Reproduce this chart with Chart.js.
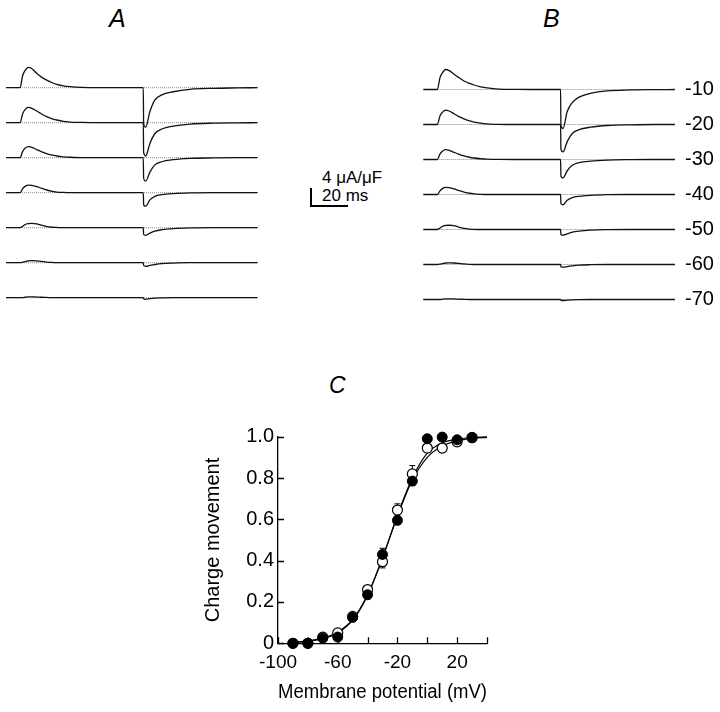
<!DOCTYPE html>
<html>
<head>
<meta charset="utf-8">
<script src="https://cdn.jsdelivr.net/npm/chart.js@4.4.1/dist/chart.umd.min.js"></script>
<style>
  body { margin: 0; background: #fff; }
  #page { position: relative; width: 720px; height: 712px; overflow: hidden;
          font-family: "Liberation Sans", Arial, sans-serif; color: #000; }
  canvas, .lbl { position: absolute; }
  .lbl { line-height: 1; white-space: nowrap; }
  .panel { font-style: italic; font-size: 25px; }
  .bar { font-size: 17px; }
</style>
</head>
<body>
<div id="page">
  <div class="lbl panel" style="left:109px; top:6px">A</div>
  <div class="lbl panel" style="left:543px; top:6px">B</div>
  <div class="lbl panel" style="left:329px; top:374px; font-size:23px">C</div>
  <div class="lbl bar" style="left:322px; top:169px">4 μA/μF</div>
  <div class="lbl bar" style="left:322px; top:187px">20 ms</div>
  <canvas id="chartA" width="400" height="280" style="left:0; top:40px; width:400px; height:280px"></canvas>
  <canvas id="chartB" width="320" height="280" style="left:400px; top:40px; width:320px; height:280px"></canvas>
  <canvas id="chartC" width="320" height="312" style="left:190px; top:400px; width:320px; height:312px"></canvas>
</div>
<script>
// test potentials (mV), one trace each, top to bottom
const potentials = ["-10", "-20", "-30", "-40", "-50", "-60", "-70"];

// sample times of the traces (ms)
const traceTimes = [0, 7.6, 9, 10.3, 12.1, 14, 16.6, 19, 22, 25, 27.4, 31, 34.6, 41, 50, 60,
                    74.2, 74.4, 75.5, 77.8, 80.5, 84.2, 90.4, 99.5, 112, 125, 136];

// panel A currents (uA/uF)
const currentA10 = [0, 0, 2.7, 3.8, 4.5, 4.2, 3.2, 2.4, 1.7, 1.1, 0.75, 0.4, 0.22, 0.05, 0, 0, 0, -8.0, -8.8, -5.3, -2.7, -1.6, -0.9, -0.35, -0.13, -0.05, 0];
const currentA20 = [0, 0, 2.0, 2.9, 3.4, 3.2, 2.6, 2.0, 1.35, 0.85, 0.6, 0.3, 0.15, 0.05, 0, 0, 0, -6.6, -7.4, -4.6, -2.4, -1.4, -0.75, -0.3, -0.1, -0.03, 0];
const currentA30 = [0, 0, 1.4, 2.1, 2.45, 2.3, 1.8, 1.35, 0.9, 0.55, 0.38, 0.2, 0.1, 0.03, 0, 0, 0, -4.6, -5.2, -3.2, -1.6, -0.9, -0.45, -0.15, -0.05, 0, 0];
const currentA40 = [0, 0, 0.9, 1.4, 1.7, 1.65, 1.35, 1.0, 0.6, 0.3, 0.15, 0.05, 0, 0, 0, 0, 0, -2.7, -3.0, -1.6, -0.8, -0.45, -0.2, -0.05, 0, 0, 0];
const currentA50 = [0, 0, 0.3, 0.7, 0.9, 0.95, 0.85, 0.55, 0.25, 0.1, 0.05, 0, 0, 0, 0, 0, 0, -1.5, -1.7, -1.2, -0.75, -0.45, -0.2, -0.05, 0, 0, 0];
const currentA60 = [0, 0, 0.1, 0.25, 0.4, 0.45, 0.4, 0.3, 0.15, 0.05, 0, 0, 0, 0, 0, 0, 0, -0.6, -0.8, -0.6, -0.4, -0.2, -0.08, 0, 0, 0, 0];
const currentA70 = [0, 0, 0, 0.1, 0.2, 0.2, 0.15, 0.1, 0.05, 0, 0, 0, 0, 0, 0, 0, 0, -0.25, -0.35, -0.2, -0.1, -0.05, 0, 0, 0, 0, 0];

// panel B currents (uA/uF)
const currentB10 = [0, 0, 2.6, 3.7, 4.45, 4.2, 3.4, 2.7, 1.9, 1.35, 1.0, 0.6, 0.35, 0.1, 0.02, 0, 0, -7.9, -8.7, -4.9, -2.9, -1.7, -0.85, -0.3, -0.1, -0.03, 0];
const currentB20 = [0, 0, 1.9, 2.7, 3.2, 3.0, 2.4, 1.8, 1.25, 0.8, 0.55, 0.3, 0.15, 0.04, 0, 0, 0, -5.5, -6.1, -3.8, -2.0, -1.15, -0.6, -0.22, -0.07, 0, 0];
const currentB30 = [0, 0, 1.2, 1.85, 2.2, 2.05, 1.6, 1.2, 0.8, 0.5, 0.33, 0.17, 0.08, 0.02, 0, 0, 0, -3.7, -4.1, -2.5, -1.3, -0.7, -0.35, -0.12, -0.03, 0, 0];
const currentB40 = [0, 0, 0.8, 1.3, 1.6, 1.55, 1.25, 0.9, 0.55, 0.28, 0.14, 0.04, 0, 0, 0, 0, 0, -2.05, -2.3, -1.3, -0.7, -0.4, -0.18, -0.04, 0, 0, 0];
const currentB50 = [0, 0, 0.3, 0.7, 0.9, 0.95, 0.85, 0.55, 0.25, 0.1, 0.04, 0, 0, 0, 0, 0, 0, -1.1, -1.26, -0.95, -0.6, -0.35, -0.15, -0.04, 0, 0, 0];
const currentB60 = [0, 0, 0.08, 0.2, 0.33, 0.37, 0.33, 0.25, 0.12, 0.04, 0, 0, 0, 0, 0, 0, 0, -0.5, -0.6, -0.45, -0.3, -0.15, -0.05, 0, 0, 0, 0];
const currentB70 = [0, 0, 0, 0.08, 0.15, 0.15, 0.12, 0.08, 0.04, 0, 0, 0, 0, 0, 0, 0, 0, -0.18, -0.22, -0.15, -0.08, -0.03, 0, 0, 0, 0, 0];

// panel C: normalized charge vs membrane potential
const voltages   = [-90, -80, -70, -60, -50, -40, -30, -20, -10, 0, 10, 20, 30];
const qFilled    = [0, 0, 0.025, 0.03, 0.125, 0.235, 0.43, 0.595, 0.785, 0.99, 0.998, 0.985, 0.997];
const qFilledErr = [0, 0, 0, 0.01, 0.01, 0.02, 0.03, 0.02, 0.02, 0, 0, 0.015, 0];
const qOpen      = [0, 0, 0.03, 0.05, 0.13, 0.26, 0.395, 0.645, 0.82, 0.945, 0.945, 0.975, 0.995];
const qOpenErr   = [0, 0, 0, 0.01, 0.01, 0.02, 0.03, 0.03, 0.04, 0.01, 0.02, 0, 0];
const fitVoltages = [-90, -80, -70, -60, -50, -40, -30, -20, -10, 0, 10, 20, 30, 40];
const fitFilled   = [0.004, 0.01, 0.022, 0.05, 0.112, 0.232, 0.415, 0.615, 0.79, 0.9, 0.955, 0.98, 0.992, 0.997];
const fitOpen     = [0.005, 0.012, 0.025, 0.055, 0.115, 0.235, 0.41, 0.62, 0.8, 0.92, 0.97, 0.988, 0.996, 0.999];
const xTickLabels = [-100, -60, -20, 20];

// layout of the trace panels
const PX_PER_MS = 1.85;
const PX_PER_UA = 4.5;
const TRACE_GAP = 35 / PX_PER_UA;   // vertical spacing of traces, uA/uF
const TRACE_END = 136;

Chart.defaults.font.family = '"Liberation Sans", Arial, sans-serif';
Chart.defaults.color = "#000";

function traceDatasets(traces) {
  const sets = [];
  traces.forEach((vals, i) => {
    sets.push({
      data: traceTimes.map((t, j) => ({ x: t, y: vals[j] - i * TRACE_GAP })),
      borderColor: "#111",
      borderWidth: 1.3,
      pointRadius: 0,
      cubicInterpolationMode: "monotone",
    });
  });
  traces.forEach((vals, i) => {
    sets.push({
      data: [{ x: 0, y: -i * TRACE_GAP }, { x: TRACE_END, y: -i * TRACE_GAP }],
      borderColor: "#8a8a8a",
      borderWidth: 1,
      borderDash: [1, 1],
      pointRadius: 0,
    });
  });
  return sets;
}

// scale bar: 20 ms by 4 uA/uF, drawn in panel A's data units
const scaleBar = {
  id: "scaleBar",
  afterDatasetsDraw(chart) {
    const { ctx, scales: { x, y } } = chart;
    const t0 = (311 - 6) / PX_PER_MS;
    const i0 = (87.7 - 206) / PX_PER_UA;
    ctx.save();
    ctx.strokeStyle = "#000";
    ctx.lineWidth = 2;
    ctx.beginPath();
    ctx.moveTo(x.getPixelForValue(t0), y.getPixelForValue(i0 + 4));
    ctx.lineTo(x.getPixelForValue(t0), y.getPixelForValue(i0));
    ctx.lineTo(x.getPixelForValue(t0 + 20), y.getPixelForValue(i0));
    ctx.stroke();
    ctx.restore();
  },
};

function traceChart(id, traces, opts) {
  return new Chart(document.getElementById(id), {
    type: "line",
    data: { datasets: traceDatasets(traces) },
    options: {
      responsive: false,
      animation: false,
      layout: { padding: 0 },
      plugins: { legend: { display: false }, tooltip: { enabled: false } },
      scales: opts.scales,
    },
    plugins: opts.plugins || [],
  });
}

// panel A
const hA = 280, topA = 40;
const yMaxA = (87.7 - topA) / PX_PER_UA;
traceChart("chartA",
  [currentA10, currentA20, currentA30, currentA40, currentA50, currentA60, currentA70],
  {
    scales: {
      x: { type: "linear", display: false, min: -6 / PX_PER_MS, max: (400 - 6) / PX_PER_MS },
      y: { display: false, min: yMaxA - hA / PX_PER_UA, max: yMaxA },
    },
    plugins: [scaleBar],
  });

// panel B, potentials as labels on the right
const yMaxB = (89.5 - topA) / PX_PER_UA;
traceChart("chartB",
  [currentB10, currentB20, currentB30, currentB40, currentB50, currentB60, currentB70],
  {
    scales: {
      x: { type: "linear", display: false, min: -(423.3 - 400) / PX_PER_MS, max: (680 - 423.3) / PX_PER_MS },
      y: {
        position: "right",
        min: yMaxB - hA / PX_PER_UA, max: yMaxB,
        grid: { display: false, drawTicks: false },
        border: { display: false },
        ticks: { padding: 5, font: { size: 20 }, callback: (v, i) => potentials[i] },
        afterBuildTicks: (s) => { s.ticks = potentials.map((p, i) => ({ value: -i * TRACE_GAP })); },
        afterFit: (s) => { s.width = 40; s.paddingTop = 0; s.paddingBottom = 0; },
      },
    },
  });

// panel C: error bars under the markers, inward ticks
const errorBars = {
  id: "errorBars",
  beforeDatasetsDraw(chart) {
    const { ctx, scales: { x, y } } = chart;
    ctx.save();
    ctx.strokeStyle = "#000";
    ctx.lineWidth = 1;
    [[qFilled, qFilledErr], [qOpen, qOpenErr]].forEach(([vals, errs]) => {
      voltages.forEach((v, i) => {
        if (!errs[i]) return;
        const px = x.getPixelForValue(v);
        const lo = y.getPixelForValue(vals[i] - errs[i]);
        const hi = y.getPixelForValue(vals[i] + errs[i]);
        ctx.beginPath();
        ctx.moveTo(px, lo); ctx.lineTo(px, hi);
        ctx.moveTo(px - 3, lo); ctx.lineTo(px + 3, lo);
        ctx.moveTo(px - 3, hi); ctx.lineTo(px + 3, hi);
        ctx.stroke();
      });
    });
    ctx.restore();
  },
};

const inwardTicks = {
  id: "inwardTicks",
  afterDraw(chart) {
    const { ctx, chartArea: a, scales: { x, y } } = chart;
    ctx.save();
    ctx.strokeStyle = "#000";
    ctx.lineWidth = 1.3;
    ctx.beginPath();
    x.ticks.forEach((t) => {
      const px = Math.round(x.getPixelForValue(t.value)) + 0.5;
      ctx.moveTo(px, a.bottom); ctx.lineTo(px, a.bottom - 6);
    });
    y.ticks.forEach((t) => {
      const py = Math.round(y.getPixelForValue(t.value)) + 0.5;
      ctx.moveTo(a.left, py); ctx.lineTo(a.left + 6, py);
    });
    ctx.stroke();
    ctx.restore();
  },
};

new Chart(document.getElementById("chartC"), {
  type: "line",
  data: {
    datasets: [
      {
        data: voltages.map((v, i) => ({ x: v, y: qFilled[i] })),
        showLine: false, pointRadius: 5, pointBackgroundColor: "#000",
        pointBorderColor: "#000", pointBorderWidth: 1, clip: false,
      },
      {
        data: voltages.map((v, i) => ({ x: v, y: qOpen[i] })),
        showLine: false, pointRadius: 5, pointBackgroundColor: "#fff",
        pointBorderColor: "#000", pointBorderWidth: 1.2, clip: false,
      },
      {
        data: fitVoltages.map((v, i) => ({ x: v, y: fitFilled[i] })),
        borderColor: "#000", borderWidth: 1.2, pointRadius: 0,
        cubicInterpolationMode: "monotone", clip: false,
      },
      {
        data: fitVoltages.map((v, i) => ({ x: v, y: fitOpen[i] })),
        borderColor: "#000", borderWidth: 1.2, pointRadius: 0,
        cubicInterpolationMode: "monotone", clip: false,
      },
    ],
  },
  options: {
    responsive: false,
    animation: false,
    layout: { padding: { top: 36.7, right: 23, left: 0, bottom: 0 } },
    plugins: { legend: { display: false }, tooltip: { enabled: false } },
    scales: {
      x: {
        type: "linear", min: -100, max: 40,
        grid: { display: false, drawTicks: false },
        border: { display: true, color: "#000", width: 1.3 },
        ticks: {
          stepSize: 20, padding: 8, autoSkip: false, maxRotation: 0, font: { size: 19 },
          callback: (v) => (xTickLabels.includes(v) ? String(v) : ""),
        },
        title: { display: true, text: "Membrane potential (mV)", font: { size: 20 }, padding: { top: 0, bottom: 8 } },
        afterFit: (s) => { s.height = 68.7; },
      },
      y: {
        min: 0, max: 1,
        grid: { display: false, drawTicks: false },
        border: { display: true, color: "#000", width: 1.3 },
        ticks: {
          stepSize: 0.2, padding: 4, font: { size: 20 },
          callback: (v) => (v === 0 ? "0" : v.toFixed(1)),
        },
        title: { display: true, text: "Charge movement", font: { size: 20 }, padding: { top: 11, bottom: 0 } },
        afterFit: (s) => { s.width = 88; },
      },
    },
  },
  plugins: [errorBars, inwardTicks],
});
</script>
</body>
</html>
